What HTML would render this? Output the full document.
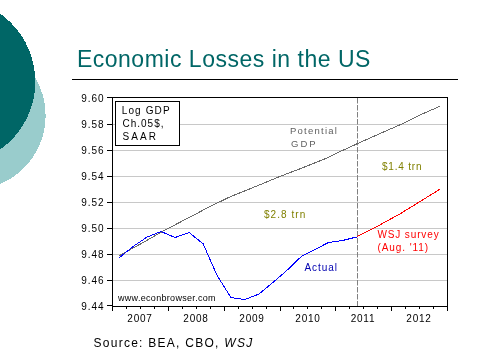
<!DOCTYPE html>
<html><head><meta charset="utf-8">
<style>
html,body{margin:0;padding:0;background:#fff;width:480px;height:359px;overflow:hidden}
svg{position:absolute;left:0;top:0;display:block;will-change:transform}
text{font-family:"Liberation Sans",sans-serif}
</style></head><body>
<svg width="480" height="359" viewBox="0 0 480 359">
<circle cx="-28.74" cy="115.57" r="74.35" fill="#99CCCC" shape-rendering="crispEdges"/>
<circle cx="-47.89" cy="81.62" r="83.21" fill="#006666" shape-rendering="crispEdges"/>
<text x="76.9" y="66.7" font-size="23" fill="#006666" letter-spacing="0.51">Economic Losses in the US</text>
<rect x="72" y="79" width="386" height="1" fill="#000"/>
<!-- gridlines -->
<g fill="#C8C8C8">
<rect x="113" y="124" width="334" height="1"/>
<rect x="113" y="150" width="334" height="1"/>
<rect x="113" y="176" width="334" height="1"/>
<rect x="113" y="202" width="334" height="1"/>
<rect x="113" y="228" width="334" height="1"/>
<rect x="113" y="254" width="334" height="1"/>
<rect x="113" y="280" width="334" height="1"/>
</g>
<!-- dashed vertical -->
<line x1="357.5" y1="98" x2="357.5" y2="306" stroke="#808080" stroke-width="1" stroke-dasharray="5.5,1.5"/>
<!-- frame -->
<rect x="112.5" y="97.5" width="335" height="209" fill="none" stroke="#000" stroke-width="1"/>
<!-- y ticks -->
<g fill="#000">
<rect x="107" y="97" width="5" height="1"/>
<rect x="107" y="124" width="5" height="1"/>
<rect x="107" y="150" width="5" height="1"/>
<rect x="107" y="176" width="5" height="1"/>
<rect x="107" y="202" width="5" height="1"/>
<rect x="107" y="228" width="5" height="1"/>
<rect x="107" y="254" width="5" height="1"/>
<rect x="107" y="280" width="5" height="1"/>
<rect x="107" y="305" width="5" height="1"/>
</g>
<!-- x ticks -->
<g fill="#000">
<rect x="112" y="306" width="1" height="5"/>
<rect x="126" y="306" width="1" height="3"/>
<rect x="140" y="306" width="1" height="3"/>
<rect x="154" y="306" width="1" height="3"/>
<rect x="168" y="306" width="1" height="5"/>
<rect x="182" y="306" width="1" height="3"/>
<rect x="196" y="306" width="1" height="3"/>
<rect x="210" y="306" width="1" height="3"/>
<rect x="224" y="306" width="1" height="5"/>
<rect x="238" y="306" width="1" height="3"/>
<rect x="252" y="306" width="1" height="3"/>
<rect x="266" y="306" width="1" height="3"/>
<rect x="280" y="306" width="1" height="5"/>
<rect x="293" y="306" width="1" height="3"/>
<rect x="307" y="306" width="1" height="3"/>
<rect x="321" y="306" width="1" height="3"/>
<rect x="335" y="306" width="1" height="5"/>
<rect x="349" y="306" width="1" height="3"/>
<rect x="363" y="306" width="1" height="3"/>
<rect x="377" y="306" width="1" height="3"/>
<rect x="391" y="306" width="1" height="5"/>
<rect x="405" y="306" width="1" height="3"/>
<rect x="419" y="306" width="1" height="3"/>
<rect x="433" y="306" width="1" height="3"/>
<rect x="447" y="306" width="1" height="5"/>
</g>
<g font-size="10" fill="#000" text-anchor="end" letter-spacing="0.97">
<text x="104.5" y="101.5">9.60</text>
<text x="104.5" y="128">9.58</text>
<text x="104.5" y="154">9.56</text>
<text x="104.5" y="180">9.54</text>
<text x="104.5" y="206">9.52</text>
<text x="104.5" y="232">9.50</text>
<text x="104.5" y="258">9.48</text>
<text x="104.5" y="284">9.46</text>
<text x="104.5" y="309.5">9.44</text>
</g>
<g font-size="10" fill="#000" text-anchor="middle" letter-spacing="0.8">
<text x="140" y="321.5">2007</text>
<text x="196" y="321.5">2008</text>
<text x="252" y="321.5">2009</text>
<text x="308" y="321.5">2010</text>
<text x="363" y="321.5">2011</text>
<text x="419" y="321.5">2012</text>
</g>
<!-- legend -->
<rect x="115.5" y="101.5" width="64" height="44" fill="#fff" stroke="#000" stroke-width="1"/>
<g font-size="10" fill="#000" letter-spacing="0.6">
<text x="121.7" y="114.3" letter-spacing="1.13">Log GDP</text>
<text x="122.5" y="127" letter-spacing="1.0">Ch.05$,</text>
<text x="122.5" y="140" letter-spacing="2.1">SAAR</text>
</g>
<!-- series -->
<g>
<polyline fill="none" stroke="#6A6A6A" stroke-width="1" shape-rendering="crispEdges" points="119.5,255.5 143.5,242.3 167.5,228.6 175.5,224.6 205.5,208.9 218.1,202.6 230.5,196.6 250.5,188.6 279.6,176.6 300.5,168.6 325.5,158.6 342.2,150.6 357.5,143.6 385.5,131.1 400.5,124.6 408.5,120.7 422.5,113.9 440.3,106.1"/>
<polyline fill="none" stroke="#0000FF" stroke-width="1" shape-rendering="crispEdges" points="119.5,257.5 133.1,246.5 147.1,237.0 161.1,231.5 175.1,237.5 189.1,232.5 203.1,243.8 217.1,275.5 230.9,297.5 244.9,299.5 258.9,294.1 272.8,282.5 286.8,270.5 301.3,256.5 314.7,249.6 328.4,242.5 342.6,240.5 356.6,237.0"/>
<polyline fill="none" stroke="#FF0000" stroke-width="1" shape-rendering="crispEdges" points="356.6,236.6 373.2,228.6 385.5,221.8 399.6,214.1 418.3,202.6 439.6,189.4"/>
</g>
<text x="290" y="133.7" font-size="9.5" fill="#606060" letter-spacing="1.24">Potential</text>
<text x="291" y="146.7" font-size="9.5" fill="#606060" letter-spacing="2">GDP</text>
<text x="382" y="170" font-size="10" fill="#808000" letter-spacing="0.8">$1.4 trn</text>
<text x="264" y="217.8" font-size="10" fill="#808000" letter-spacing="1.04">$2.8 trn</text>
<text x="377.5" y="238" font-size="10" fill="#FF0000" letter-spacing="0.87">WSJ survey</text>
<text x="377.5" y="250.8" font-size="10" fill="#FF0000" letter-spacing="0.91">(Aug. '11)</text>
<text x="304.5" y="271" font-size="10" fill="#0000B0" letter-spacing="0.94">Actual</text>
<text x="118" y="301" font-size="9" fill="#000" letter-spacing="0.31">www.econbrowser.com</text>
<text x="93.5" y="347" font-size="12" fill="#000" letter-spacing="1.265">Source: BEA, CBO, <tspan font-style="italic">WSJ</tspan></text>
</svg>
</body></html>
